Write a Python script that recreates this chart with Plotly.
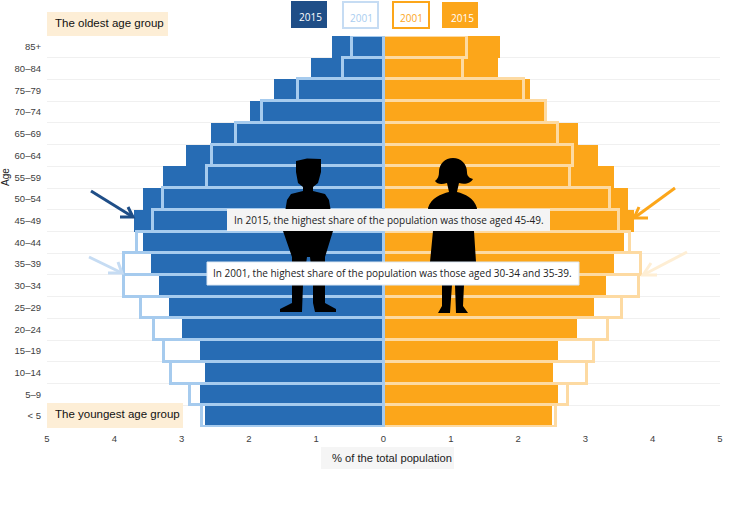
import plotly.graph_objects as go

ages = ["< 5", "5–9", "10–14", "15–19", "20–24", "25–29", "30–34", "35–39", "40–44",
        "45–49", "50–54", "55–59", "60–64", "65–69", "70–74", "75–79", "80–84", "85+"]
male_2015 = [2.65, 2.73, 2.65, 2.73, 2.99, 3.19, 3.33, 3.45, 3.58,
             3.70, 3.57, 3.27, 2.93, 2.56, 1.99, 1.62, 1.07, 0.77]
male_2001 = [2.70, 2.88, 3.16, 3.26, 3.41, 3.60, 3.85, 3.85, 3.66,
             3.43, 3.28, 2.63, 2.55, 2.19, 1.81, 1.27, 0.60, 0.47]
female_2015 = [2.51, 2.60, 2.52, 2.60, 2.87, 3.13, 3.30, 3.42, 3.58,
               3.72, 3.64, 3.43, 3.19, 2.89, 2.40, 2.18, 1.70, 1.73]
female_2001 = [2.56, 2.74, 3.03, 3.13, 3.33, 3.54, 3.80, 3.82, 3.67,
               3.50, 3.37, 2.77, 2.81, 2.60, 2.42, 2.09, 1.18, 1.24]
x_ticks = [-5, -4, -3, -2, -1, 0, 1, 2, 3, 4, 5]

BLUE, LBLUE, DBLUE = "#276cb4", "#a6cbee", "#1f4e87"
ORANGE, LORANGE, PALE = "#fca61a", "#fddaa2", "#fdeed6"
W, H = 742, 506
L, R, T, B = 47, 720, 36, 427
SANS = "Open Sans"
ARIAL = "Liberation Sans"


def xp(px):
    return (px - L) / (R - L)


def yp(py):
    return 1 - (py - T) / (B - T)


def box(x0, y0, x1, y1, fill, line=None, lw=0):
    return dict(type="rect", xref="paper", yref="paper", x0=xp(x0), x1=xp(x1), y0=yp(y1), y1=yp(y0),
                fillcolor=fill, line=dict(color=line or fill, width=lw), layer="above")


def path(points, close=True, fill="black", line=None, lw=0):
    s = ""
    for cmd, *vals in points:
        s += cmd + ",".join(
            f"{xp(v):.5f}" if i % 2 == 0 else f"{yp(v):.5f}" for i, v in enumerate(vals)) + " "
    if close:
        s += "Z"
    return dict(type="path", xref="paper", yref="paper", path=s, layer="above",
                fillcolor=fill if close else "rgba(0,0,0,0)",
                line=dict(color=line or fill, width=lw))


def polyline(pts, color, lw=3):
    return path([("M" if i == 0 else "L", *p) for i, p in enumerate(pts)], close=False, line=color, lw=lw)


def arrow(tail, tip, a1, a2, color):
    return [polyline([tail, tip], color), polyline([a1, tip, a2], color)]


def note(text, x, y, size=10, color="#222222", family=SANS, anchor="center", angle=0):
    return dict(text=text, xref="paper", yref="paper", x=xp(x), y=yp(y), showarrow=False,
                xanchor=anchor, yanchor="middle", textangle=angle,
                font=dict(size=size, color=color, family=family))


man = [("M", 296, 161), ("L", 307, 158.5), ("L", 321, 159), ("L", 321, 172), ("L", 318, 183), ("L", 313, 187),
       ("L", 313, 191), ("L", 325, 194), ("L", 329, 200), ("L", 331, 212), ("L", 333, 231), ("L", 325, 257),
       ("L", 325, 303), ("L", 336, 309), ("L", 336, 312), ("L", 315, 312), ("L", 313, 303), ("L", 313, 285),
       ("L", 310, 257), ("L", 307, 257), ("L", 303, 285), ("L", 302, 312), ("L", 280, 312), ("L", 280, 309),
       ("L", 292, 303), ("L", 292, 257), ("L", 283, 231), ("L", 285, 212), ("L", 287, 200), ("L", 291, 194),
       ("L", 303, 191), ("L", 303, 187), ("L", 298, 183), ("L", 296, 172)]
woman = [("M", 453, 158), ("C", 461, 158, 467, 164, 467, 172), ("C", 467, 176, 469, 178, 473, 179),
         ("C", 471, 183, 465, 185, 459, 183), ("L", 457, 192), ("C", 465, 194, 474, 198, 477, 208),
         ("L", 474, 231), ("L", 476, 262), ("L", 464, 285), ("L", 463, 306), ("L", 468, 313), ("L", 456, 313),
         ("L", 455, 285), ("L", 452, 285), ("L", 450, 313), ("L", 438, 313), ("L", 442, 306), ("L", 442, 285),
         ("L", 430, 262), ("L", 433, 231), ("L", 428, 208), ("C", 431, 198, 441, 194, 449, 192),
         ("L", 447, 183), ("C", 441, 185, 437, 184, 435, 181), ("C", 438, 179, 439, 176, 439, 172),
         ("C", 439, 164, 445, 158, 453, 158)]

fig = go.Figure()
fig.add_bar(y=ages, x=[-v for v in male_2015], orientation="h", marker=dict(color=BLUE, line_width=0), name="2015")
fig.add_bar(y=ages, x=female_2015, orientation="h", marker=dict(color=ORANGE, line_width=0), name="2015")
fig.add_bar(y=ages, x=female_2001, orientation="h",
            marker=dict(color="rgba(0,0,0,0)", line=dict(color=LORANGE, width=3)), name="2001")
fig.add_bar(y=ages, x=[-v for v in male_2001], orientation="h",
            marker=dict(color="rgba(0,0,0,0)", line=dict(color=LBLUE, width=3)), name="2001")

shapes = [
    path(man), path(woman),
    box(227, 209, 550, 231, "#f4f4f4"),
    box(207, 262, 579, 285, "#ffffff", "#dbe7f3", 1),
    box(47, 12, 168, 36, PALE),
    box(47, 403, 183, 428, PALE),
    box(321, 447, 454, 469, "#f5f5f5"),
    box(291, 1, 327, 28, DBLUE),
    box(343, 2, 378, 28, "#ffffff", "#c6dcf3", 2),
    box(393, 2, 429, 28, "#ffffff", ORANGE, 2),
    box(442, 2, 478, 28, ORANGE),
]
shapes += arrow((91, 191), (133, 217), (128, 207), (120, 217), DBLUE)
shapes += arrow((89, 257), (122, 273), (118, 262), (108, 273), "#c6dcf3")
shapes += arrow((675, 188), (634, 218), (639, 207), (648, 218), ORANGE)
shapes += arrow((687, 252), (643, 275), (651, 263), (657, 275), "#feeed4")

annotations = [
    note("In 2015, the highest share of the population was those aged 45-49.", 388.5, 219.5),
    note("In 2001, the highest share of the population was those aged 30-34 and 35-39.", 393, 273),
    note("The oldest age group", 53, 22.5, 11.5, "#111111", ARIAL, "left"),
    note("The youngest age group", 53, 414, 11.5, "#111111", ARIAL, "left"),
    note("% of the total population", 392.5, 457.5, 11.2, "#222222", ARIAL),
    note("2015", 310, 17, 10, "#ffffff"),
    note("2001", 361, 18, 10, "#a9cdf0"),
    note("2001", 411, 18, 10, ORANGE),
    note("2015", 462, 18, 10, "#ffffff"),
    note("Age", 5, 177, 10, "#222222", ARIAL, angle=-90),
]

fig.update_layout(
    width=W, height=H, autosize=False, barmode="overlay", bargap=0,
    margin=dict(l=L, r=W - R, t=T, b=H - B, pad=0),
    paper_bgcolor="white", plot_bgcolor="white", showlegend=False,
    shapes=shapes, annotations=annotations,
    font=dict(family=ARIAL, size=10, color="#404040"),
    xaxis=dict(range=[-5, 5], tickvals=x_ticks, ticktext=[str(abs(v)) for v in x_ticks],
               showgrid=False, zeroline=False, showline=False, ticks="", tickfont=dict(size=9.5),
               ticklabelstandoff=4),
    yaxis=dict(type="category", categoryorder="array", categoryarray=ages, tickson="boundaries",
               showgrid=True, gridcolor="#f0f0f0", gridwidth=1, showline=False, zeroline=False,
               ticks="", tickfont=dict(size=9.5), range=[-0.5, 17.5], ticklabelstandoff=5),
)
fig.write_html("out.html", config={"displayModeBar": False},
               post_script="document.body.style.margin='0';document.documentElement.style.overflow='hidden';")
